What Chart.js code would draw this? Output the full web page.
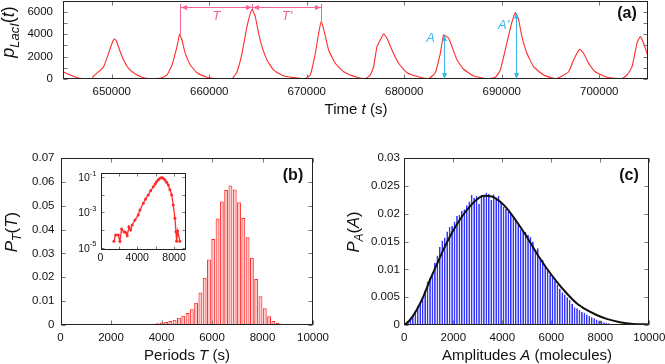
<!DOCTYPE html>
<html>
<head>
<meta charset="utf-8">
<script src="https://cdn.jsdelivr.net/npm/chart.js@4.4.1/dist/chart.umd.min.js"></script>
<style>
  html, body { margin: 0; padding: 0; background: #fff; }
  #wrap { position: relative; width: 665px; height: 364px; }
  #wrap canvas { position: absolute; left: 0; top: 0; }
</style>
</head>
<body>
<div id="wrap">
  <canvas id="chartA" width="665" height="364"></canvas>
  <canvas id="chartB" width="665" height="364"></canvas>
  <canvas id="chartC" width="665" height="364"></canvas>
  <canvas id="chartInset" width="665" height="364"></canvas>
</div>
<script>
/* ------------------------------------------- */
/* DATA -------------------------------------- */
/* ------------------------------------------- */

// (a) LacI copy number vs time
const timeS = [645000, 645750, 646600, 647300, 647970, 648140, 648650, 649170, 649680, 650030,
  650260, 650470, 650800, 651220, 651730, 652420, 653270, 654000, 654640, 655150,
  655670, 656180, 656690, 656960, 657200, 657540, 658060, 658740, 659770, 660500,
  661130, 662330, 662850, 663360, 663870, 664380, 664720, 665060, 665410, 665920,
  666600, 667630, 669000, 669850, 670360, 670880, 671220, 671490, 671800, 672240,
  672930, 673780, 675150, 676000, 676500, 676860, 677200, 677540, 677880, 678230,
  678740, 679420, 680280, 681650, 682500, 683180, 683700, 684040, 684550, 684900,
  685410, 686090, 687110, 688490, 689340, 689850, 690360, 690880, 691220, 691420,
  691730, 692070, 692580, 693270, 694290, 695490, 696180, 696860, 697370, 697990,
  698390, 698910, 699590, 700790, 702330, 702850, 703360, 703870, 704210, 704550, 705030];
const lacI = [650, 360, 90, 40, 30, 270, 650, 1100, 2290, 3190,
  3570, 3420, 2590, 1700, 950, 450, 120, 40, 30, 120,
  360, 1250, 2880, 3990, 3480, 2290, 1250, 560, 150, 50,
  30, 30, 650, 2290, 4670, 6220, 5560, 4080, 2880, 1700,
  800, 270, 90, 30, 360, 2290, 4080, 5120, 4220, 2590,
  1400, 650, 150, 30, 350, 1100, 2880, 3480, 4020, 3630,
  2590, 1400, 560, 150, 30, 560, 2290, 3930, 3630, 2880,
  1700, 870, 270, 30, 150, 800, 2590, 4530, 5560, 5920,
  5270, 3780, 2290, 1100, 360, 30, 270, 650, 1700, 2650,
  2290, 1400, 650, 150, 30, 360, 1100, 3190, 3780, 3190, 1940];
const timeTicks = [650000, 660000, 670000, 680000, 690000, 700000];
const lacITicks = [0, 1000, 2000, 3000, 4000, 5000, 6000, 7000];
// peaks used for the T / T' brackets and the A / A' arrows
const periodPeakT = [656960, 664380, 671490];
const periodPeakP = [3990, 6220, 5120];
const ampPeakT = [684040, 691420];
const ampPeakP = [3930, 5920];

// (b) period distribution
const periodBins = [1630, 1800, 1970, 2140, 2310, 2480, 2650, 2820, 2990, 3160,
  3330, 3500, 3670, 3840, 4010, 4180, 4350, 4520, 4690, 4860,
  5030, 5200, 5370, 5540, 5710, 5880, 6050, 6220, 6390, 6560,
  6730, 6900, 7070, 7240, 7410, 7580, 7750, 7920, 8090, 8260,
  8430, 8600, 8770, 8940, 9110, 9280];
const periodProb = [0.0001, 0.0001, 0.0001, 0.0001, 0.0001, 0.0001, 0.0001, 0.0001, 0.0002, 0.0002,
  0.0003, 0.0004, 0.0005, 0.0007, 0.0010, 0.0013, 0.0017, 0.0022, 0.0030, 0.0039,
  0.0050, 0.0066, 0.0093, 0.0136, 0.0198, 0.0275, 0.0360, 0.0446, 0.0518, 0.0566,
  0.0585, 0.0568, 0.0515, 0.0448, 0.0368, 0.0282, 0.0193, 0.0120, 0.0070, 0.0037,
  0.0017, 0.0008, 0.0003, 0.0002, 0.0001, 0.0001];
const periodTicksX = [0, 2000, 4000, 6000, 8000, 10000];
const periodTicksY = [0, 0.01, 0.02, 0.03, 0.04, 0.05, 0.06, 0.07];

// (b) inset, log scale
const insetT = [1460, 1645, 1930, 2110, 2300, 2550, 2730, 2910, 3090, 3280,
  3450, 3750, 4100, 4290, 4650, 4900, 5190, 5450, 5740, 5950,
  6100, 6300, 6470, 6650, 6830, 7010, 7190, 7370, 7550, 7740,
  7910, 8100, 8210, 8280, 8390, 8640];
const insetP = [2.3e-5, 5.1e-5, 5.1e-5, 2.3e-5, 1.15e-4, 7.9e-5, 7.1e-5, 4.7e-5, 1.55e-4, 1.0e-4,
  1.95e-4, 3.7e-4, 7.2e-4, 1.38e-3, 3.4e-3, 5.8e-3, 1.0e-2, 1.74e-2, 2.95e-2, 4.27e-2,
  5.75e-2, 7.4e-2, 8.9e-2, 9.8e-2, 8.9e-2, 7.2e-2, 5.4e-2, 3.7e-2, 2.0e-2, 1.0e-2,
  2.7e-3, 4.7e-4, 7.9e-5, 2.3e-5, 8.7e-5, 2.3e-5];
const insetTicksX = [0, 2000, 4000, 6000, 8000];
const insetLabelsX = [0, 4000, 8000];
const insetTicksY = [1e-5, 1e-4, 1e-3, 1e-2, 1e-1];
const insetLabelsY = [1e-5, 1e-3, 1e-1];

// (c) amplitude distribution + fit
const ampBins = [50, 150, 250, 350, 450, 550, 650, 750, 850, 950,
  1050, 1150, 1250, 1350, 1450, 1550, 1650, 1750, 1850, 1950,
  2050, 2150, 2250, 2350, 2450, 2550, 2650, 2750, 2850, 2950,
  3050, 3150, 3250, 3350, 3450, 3550, 3650, 3750, 3850, 3950,
  4050, 4150, 4250, 4350, 4450, 4550, 4650, 4750, 4850, 4950,
  5050, 5150, 5250, 5350, 5450, 5550, 5650, 5750, 5850, 5950,
  6050, 6150, 6250, 6350, 6450, 6550, 6650, 6750, 6850, 6950,
  7050, 7150, 7250, 7350, 7450, 7550, 7650, 7750, 7850, 7950,
  8050, 8150, 8250, 8350, 8450, 8550, 8650];
const ampProb = [0.0002, 0.0004, 0.0012, 0.0018, 0.0025, 0.0034, 0.0038, 0.0050, 0.0062, 0.0078,
  0.0085, 0.0094, 0.0112, 0.0125, 0.0140, 0.0152, 0.0157, 0.0168, 0.0176, 0.0178,
  0.0186, 0.0196, 0.0198, 0.0205, 0.0208, 0.0215, 0.0222, 0.0234, 0.0228, 0.0232,
  0.0218, 0.0234, 0.0233, 0.0238, 0.0236, 0.0225, 0.0235, 0.0229, 0.0232, 0.0222,
  0.0212, 0.0209, 0.0203, 0.0201, 0.0196, 0.0187, 0.0181, 0.0172, 0.0168, 0.0167,
  0.0162, 0.0158, 0.0150, 0.0134, 0.0138, 0.0118, 0.0117, 0.0104, 0.0098, 0.0090,
  0.0085, 0.0079, 0.0072, 0.0065, 0.0059, 0.0055, 0.0050, 0.0045, 0.0038, 0.0032,
  0.0030, 0.0027, 0.0024, 0.0022, 0.0019, 0.0016, 0.0014, 0.0012, 0.0010, 0.0008,
  0.0007, 0.0005, 0.0004, 0.0003, 0.0002, 0.0002, 0.0001];
const fitA = [0, 231, 503, 776, 1048, 1320, 1592, 1864, 2136, 2408,
  2680, 2952, 3252, 3565, 3905, 4177, 4585, 4993, 5401, 5810,
  6218, 6626, 7034, 7442, 7850, 8259, 8803, 9347, 10000];
const fitP = [0, 0.0009, 0.0027, 0.0051, 0.0081, 0.0108, 0.0135, 0.0159, 0.0180, 0.0198,
  0.0213, 0.0225, 0.0232, 0.0231, 0.0222, 0.0210, 0.0186, 0.0159, 0.0129, 0.0102,
  0.0078, 0.0057, 0.0039, 0.0027, 0.0018, 0.0011, 0.0005, 0.0002, 0.0001];
const ampTicksX = [0, 2000, 4000, 6000, 8000, 10000];
const ampTicksY = [0, 0.005, 0.01, 0.015, 0.02, 0.025, 0.03];

/* ------------------------------------------- */
/* HELPERS ----------------------------------- */
/* ------------------------------------------- */
const FONT = "'Liberation Sans', Arial, Helvetica, sans-serif";
const RED = '#ff2b2b';
const PINK = '#f2668f';
const CYAN = '#3cb4e6';

function pts(xs, ys) {
  return xs.map((v, i) => ({ x: v, y: ys[i] }));
}

function axis(o) {
  return {
    type: o.type || 'linear', min: o.min, max: o.max, offset: false,
    grid: { display: false, drawTicks: false }, border: { display: false },
    afterBuildTicks: s => { s.ticks = o.ticks.map(v => ({ value: v })); },
    afterFit: s => {
      if (s.isHorizontal()) s.height = o.size; else s.width = o.size;
      s.paddingLeft = 0; s.paddingRight = 0; s.paddingTop = 0; s.paddingBottom = 0;
    },
    ticks: {
      display: o.labels !== false, font: { family: FONT, size: 11.5 }, color: '#111',
      padding: o.pad || 0, autoSkip: false, maxRotation: 0, minRotation: 0,
      callback: o.fmt || (v => String(v))
    }
  };
}

function baseOptions(pad) {
  return {
    responsive: false, animation: false, devicePixelRatio: 1,
    layout: { padding: pad },
    plugins: { legend: { display: false }, tooltip: { enabled: false } }
  };
}

// frame and inward tick marks on all four sides
const frameTicks = {
  id: 'frameTicks',
  afterDatasetsDraw(chart, args, opts) {
    const { ctx, chartArea: a, scales } = chart;
    const len = opts.len || 4;
    const L = Math.round(a.left) + 0.5, R = Math.round(a.right) - 0.5;
    const T = Math.round(a.top) + 0.5, B = Math.round(a.bottom) - 0.5;
    ctx.save();
    ctx.lineWidth = 1;
    ctx.strokeStyle = '#777';
    ctx.beginPath();
    scales.x.ticks.forEach(t => {
      const px = Math.round(scales.x.getPixelForValue(t.value)) + 0.5;
      ctx.moveTo(px, B); ctx.lineTo(px, B - len);
      ctx.moveTo(px, T); ctx.lineTo(px, T + len);
    });
    scales.y.ticks.forEach(t => {
      const py = Math.round(scales.y.getPixelForValue(t.value)) + 0.5;
      ctx.moveTo(L, py); ctx.lineTo(L + len, py);
      ctx.moveTo(R, py); ctx.lineTo(R - len, py);
    });
    ctx.stroke();
    ctx.strokeStyle = '#222';
    ctx.strokeRect(L, T, R - L, B - T);
    ctx.restore();
  }
};
Chart.register(frameTicks);

// text made of pieces: {t, i: italic, sub: subscript}
function drawRich(ctx, parts, x, y, size, rotate) {
  ctx.save();
  ctx.translate(x, y);
  if (rotate) ctx.rotate(-Math.PI / 2);
  const fontFor = p => (p.i ? 'italic ' : '') + (p.sub ? size * 0.72 : size) + 'px ' + FONT;
  let total = 0;
  parts.forEach(p => { ctx.font = fontFor(p); p.w = ctx.measureText(p.t).width; total += p.w; });
  let cx = -total / 2;
  ctx.fillStyle = '#111';
  ctx.textAlign = 'left';
  ctx.textBaseline = 'alphabetic';
  parts.forEach(p => { ctx.font = fontFor(p); ctx.fillText(p.t, cx, p.sub ? size * 0.26 : 0); cx += p.w; });
  ctx.restore();
}

function panelLabel(ctx, text, x, y) {
  ctx.save();
  ctx.font = 'bold 16px ' + FONT;
  ctx.fillStyle = '#111';
  ctx.textAlign = 'center';
  ctx.textBaseline = 'middle';
  ctx.fillText(text, x, y);
  ctx.restore();
}

function arrowHead(ctx, x, y, dx, dy, len, half) {
  ctx.beginPath();
  ctx.moveTo(x, y);
  ctx.lineTo(x - dx * len - dy * half, y - dy * len + dx * half);
  ctx.lineTo(x - dx * len + dy * half, y - dy * len - dx * half);
  ctx.closePath();
  ctx.fill();
}

/* ------------------------------------------- */
/* PANEL (a) --------------------------------- */
/* ------------------------------------------- */
const decorA = {
  id: 'decorA',
  afterDraw(chart) {
    const { ctx, scales: { x, y } } = chart;
    ctx.save();
    ctx.lineWidth = 1;
    // T and T' brackets
    ctx.strokeStyle = PINK; ctx.fillStyle = PINK;
    const ya = Math.round(y.getPixelForValue(6450)) + 0.5;
    const yTop = y.getPixelForValue(6700);
    const xs = periodPeakT.map(t => Math.round(x.getPixelForValue(t)) + 0.5);
    ctx.beginPath();
    xs.forEach((px, i) => { ctx.moveTo(px, yTop); ctx.lineTo(px, y.getPixelForValue(periodPeakP[i])); });
    ctx.moveTo(xs[0], ya); ctx.lineTo(xs[2], ya);
    ctx.stroke();
    for (let i = 0; i < 2; i++) {
      arrowHead(ctx, xs[i] + 0.5, ya, -1, 0, 6, 2.5);
      arrowHead(ctx, xs[i + 1] - 0.5, ya, 1, 0, 6, 2.5);
    }
    ctx.font = 'italic 13px ' + FONT;
    ctx.textAlign = 'center'; ctx.textBaseline = 'middle';
    const yl = y.getPixelForValue(5600);
    ctx.fillText('T', (xs[0] + xs[1]) / 2, yl);
    ctx.fillText("T'", (xs[1] + xs[2]) / 2, yl);
    // A and A' arrows
    ctx.strokeStyle = CYAN; ctx.fillStyle = CYAN;
    const y0 = y.getPixelForValue(0);
    ampPeakT.forEach((t, i) => {
      const px = Math.round(x.getPixelForValue(t)) + 0.5;
      const py = y.getPixelForValue(ampPeakP[i]);
      ctx.beginPath(); ctx.moveTo(px, py + 3); ctx.lineTo(px, y0 - 3); ctx.stroke();
      arrowHead(ctx, px, py, 0, -1, 6, 2.5);
      arrowHead(ctx, px, y0, 0, 1, 6, 2.5);
    });
    ctx.font = 'italic 13px ' + FONT;
    ctx.fillText('A', x.getPixelForValue(ampPeakT[0]) - 13, y.getPixelForValue(3650));
    ctx.fillText("A'", x.getPixelForValue(ampPeakT[1]) - 12, y.getPixelForValue(4750));
    ctx.restore();
    // titles
    drawRich(ctx, [{ t: 'p', i: true }, { t: 'LacI', i: true, sub: true }, { t: '(' }, { t: 't', i: true }, { t: ')' }], 14, 32, 18, true);
    drawRich(ctx, [{ t: 'Time ' }, { t: 't', i: true }, { t: ' (s)' }], 356, 114, 15, false);
    panelLabel(ctx, '(a)', 627, 14);
  }
};

new Chart(document.getElementById('chartA'), {
  type: 'line',
  data: { datasets: [{ data: pts(timeS, lacI), borderColor: RED, borderWidth: 1.1, pointRadius: 0, tension: 0.15 }] },
  options: Object.assign(baseOptions({ left: 23, right: 17, top: 0.5, bottom: 265 }), {
    scales: {
      x: axis({ min: 645000, max: 705000, ticks: timeTicks, size: 20, pad: 6 }),
      y: axis({ min: 0, max: 7000, ticks: lacITicks, size: 40, pad: 10, fmt: v => (v % 2000 === 0 ? String(v) : '') })
    }
  }),
  plugins: [decorA]
});

/* ------------------------------------------- */
/* PANEL (b) --------------------------------- */
/* ------------------------------------------- */
const decorB = {
  id: 'decorB',
  afterDraw(chart) {
    const { ctx } = chart;
    drawRich(ctx, [{ t: 'P', i: true }, { t: 'T', i: true, sub: true }, { t: '(' }, { t: 'T', i: true }, { t: ')' }], 17, 232, 17, true);
    drawRich(ctx, [{ t: 'Periods ' }, { t: 'T', i: true }, { t: ' (s)' }], 187, 360, 15, false);
    panelLabel(ctx, '(b)', 293, 176);
  }
};

new Chart(document.getElementById('chartB'), {
  type: 'bar',
  data: { datasets: [{
    data: pts(periodBins, periodProb), backgroundColor: 'rgba(255,140,140,0.45)', borderColor: '#ff2a2a',
    borderWidth: 1, barPercentage: 0.9, categoryPercentage: 1
  }] },
  options: Object.assign(baseOptions({ left: 20.5, right: 352, top: 158, bottom: 19 }), {
    scales: {
      x: axis({ min: 0, max: 10000, ticks: periodTicksX, size: 20, pad: 6 }),
      y: axis({ min: 0, max: 0.07, ticks: periodTicksY, size: 40, pad: 6 })
    }
  }),
  plugins: [decorB]
});

/* ------------------------------------------- */
/* PANEL (b) INSET --------------------------- */
/* ------------------------------------------- */
const decorInset = {
  id: 'decorInset',
  beforeDatasetsDraw(chart) {
    const { ctx, chartArea: a } = chart;
    ctx.save();
    ctx.fillStyle = '#fff';
    ctx.fillRect(a.left, a.top, a.right - a.left, a.bottom - a.top);
    ctx.restore();
  },
  afterDraw(chart) {
    const { ctx, chartArea: a, scales: { x, y } } = chart;
    ctx.save();
    ctx.fillStyle = '#111';
    ctx.font = '10.5px ' + FONT;
    ctx.textAlign = 'center'; ctx.textBaseline = 'middle';
    insetLabelsX.forEach(v => ctx.fillText(String(v), x.getPixelForValue(v), a.bottom + 9));
    ctx.textAlign = 'right'; ctx.textBaseline = 'alphabetic';
    insetLabelsY.forEach(v => {
      const py = y.getPixelForValue(v);
      const sup = String(Math.round(Math.log10(v)));
      ctx.font = '7.5px ' + FONT;
      const sw = ctx.measureText(sup).width;
      ctx.fillText(sup, a.left - 4, py - 1.5);
      ctx.font = '10.5px ' + FONT;
      ctx.fillText('10', a.left - 4 - sw, py + 4);
    });
    ctx.restore();
  }
};

new Chart(document.getElementById('chartInset'), {
  type: 'line',
  data: { datasets: [{
    data: pts(insetT, insetP), borderColor: RED, borderWidth: 1.3,
    pointRadius: 1.5, pointBackgroundColor: RED, pointBorderWidth: 0, tension: 0
  }] },
  options: Object.assign(baseOptions({ left: 100.5, right: 479, top: 173, bottom: 114.5 }), {
    scales: {
      x: axis({ min: 0, max: 9300, ticks: insetTicksX, size: 0, labels: false }),
      y: axis({ type: 'logarithmic', min: 7.7e-6, max: 0.18, ticks: insetTicksY, size: 0, labels: false })
    },
    plugins: { legend: { display: false }, tooltip: { enabled: false }, frameTicks: { len: 3 } }
  }),
  plugins: [decorInset]
});

/* ------------------------------------------- */
/* PANEL (c) --------------------------------- */
/* ------------------------------------------- */
const decorC = {
  id: 'decorC',
  afterDraw(chart) {
    const { ctx } = chart;
    drawRich(ctx, [{ t: 'P', i: true }, { t: 'A', i: true, sub: true }, { t: '(' }, { t: 'A', i: true }, { t: ')' }], 359, 232, 16.5, true);
    drawRich(ctx, [{ t: 'Amplitudes ' }, { t: 'A', i: true }, { t: ' (molecules)' }], 527, 360, 15, false);
    panelLabel(ctx, '(c)', 629, 176);
  }
};

new Chart(document.getElementById('chartC'), {
  type: 'bar',
  data: { datasets: [
    { type: 'line', order: 0, data: pts(fitA, fitP), borderColor: '#111', borderWidth: 2, pointRadius: 0, cubicInterpolationMode: 'monotone' },
    { type: 'bar', order: 1, data: pts(ampBins, ampProb), backgroundColor: 'rgba(150,150,255,0.45)', borderColor: '#3434ff',
      borderWidth: 1, barPercentage: 0.72, categoryPercentage: 1 }
  ] },
  options: Object.assign(baseOptions({ left: 364.3, right: 15.7, top: 158, bottom: 19 }), {
    scales: {
      x: axis({ min: 0, max: 10000, ticks: ampTicksX, size: 20, pad: 6 }),
      y: axis({ min: 0, max: 0.03, ticks: ampTicksY, size: 40, pad: 4.5 })
    }
  }),
  plugins: [decorC]
});
</script>
</body>
</html>
